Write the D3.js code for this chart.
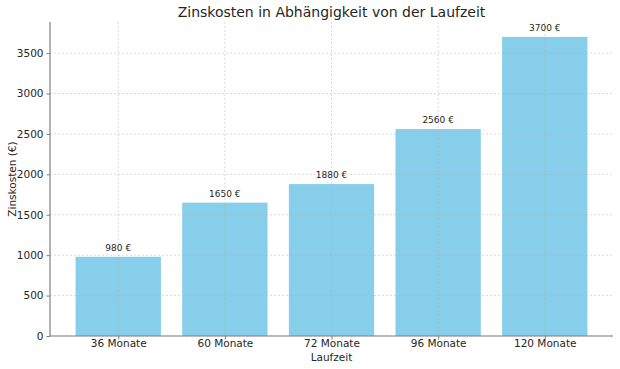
<!DOCTYPE html>
<html>
<head>
<meta charset="utf-8">
<script src="https://cdn.jsdelivr.net/npm/d3@7"></script>
<style>
  body { margin: 0; background: #fff; }
  text { font-family: "DejaVu Sans", sans-serif; fill: #262626; }
</style>
</head>
<body>
<div id="chart"></div>
<script>
var width = 620, height = 369;
var margin = {top: 22, right: 7, bottom: 33, left: 50};

// data
var laufzeiten = ["36 Monate", "60 Monate", "72 Monate", "96 Monate", "120 Monate"];
var zinskosten = [980, 1650, 1880, 2560, 3700];
var yTicks = [0, 500, 1000, 1500, 2000, 2500, 3000, 3500];

var svg = d3.select("#chart")
  .append("svg")
  .attr("width", width)
  .attr("height", height);

var plotW = width - margin.left - margin.right;
var plotH = height - margin.top - margin.bottom;

var g = svg.append("g")
  .attr("transform", "translate(" + margin.left + "," + margin.top + ")");

var x = d3.scaleLinear()
  .domain([-0.64, laufzeiten.length - 1 + 0.64])
  .range([0, plotW]);

var y = d3.scaleLinear()
  .domain([0, d3.max(zinskosten) * 1.05])
  .range([plotH, 0]);

var barW = x(0.8) - x(0);

// bars
g.selectAll(".bar")
  .data(zinskosten)
  .enter().append("rect")
  .attr("x", function(d, i){ return x(i) - barW / 2; })
  .attr("y", function(d){ return y(d); })
  .attr("width", barW)
  .attr("height", function(d){ return plotH - y(d); })
  .attr("fill", "#87ceeb");

// grid on top
g.selectAll(".hgrid")
  .data(yTicks)
  .enter().append("line")
  .attr("x1", 0).attr("x2", plotW)
  .attr("y1", function(d){ return y(d); })
  .attr("y2", function(d){ return y(d); })
  .attr("stroke", "#b0b0b0")
  .attr("stroke-opacity", 0.6)
  .attr("stroke-dasharray", "2,2")
  .attr("stroke-width", 0.8);

g.selectAll(".vgrid")
  .data(laufzeiten)
  .enter().append("line")
  .attr("x1", function(d, i){ return x(i); })
  .attr("x2", function(d, i){ return x(i); })
  .attr("y1", 0).attr("y2", plotH)
  .attr("stroke", "#b0b0b0")
  .attr("stroke-opacity", 0.6)
  .attr("stroke-dasharray", "2,2")
  .attr("stroke-width", 0.8);

// value labels
g.selectAll(".lbl")
  .data(zinskosten)
  .enter().append("text")
  .attr("x", function(d, i){ return x(i); })
  .attr("y", function(d){ return y(d) - 6; })
  .attr("text-anchor", "middle")
  .attr("font-size", "9px")
  .text(function(d){ return d + " €"; });

// axes
var yAxis = d3.axisLeft(y).tickValues(yTicks).tickFormat(d3.format("d"))
  .tickSize(3.5).tickPadding(3);
var xAxis = d3.axisBottom(x)
  .tickValues(d3.range(laufzeiten.length))
  .tickFormat(function(i){ return laufzeiten[i]; })
  .tickSize(3.5).tickPadding(0.5);

var ya = g.append("g").call(yAxis);
var xa = g.append("g").attr("transform", "translate(0," + plotH + ")").call(xAxis);

[ya, xa].forEach(function(a){
  a.select(".domain").attr("stroke", "#808080").attr("stroke-width", 1.2);
  a.selectAll(".tick line").attr("stroke", "#808080");
  a.selectAll(".tick text").attr("font-size", "10.5px").attr("fill", "#262626")
    .attr("font-family", "DejaVu Sans, sans-serif");
});
// only left/bottom spine, drop the outer tick stubs
ya.select(".domain").attr("d", "M0," + plotH + "V0");
xa.select(".domain").attr("d", "M0,0H" + plotW);

// titles
svg.append("text")
  .attr("x", margin.left + plotW / 2)
  .attr("y", 17)
  .attr("text-anchor", "middle")
  .attr("font-size", "14px")
  .text("Zinskosten in Abhängigkeit von der Laufzeit");

svg.append("text")
  .attr("x", margin.left + plotW / 2)
  .attr("y", 361)
  .attr("text-anchor", "middle")
  .attr("font-size", "10.5px")
  .text("Laufzeit");

svg.append("text")
  .attr("transform", "translate(16," + (margin.top + plotH / 2) + ") rotate(-90)")
  .attr("text-anchor", "middle")
  .attr("font-size", "10.5px")
  .text("Zinskosten (€)");
</script>
</body>
</html>
